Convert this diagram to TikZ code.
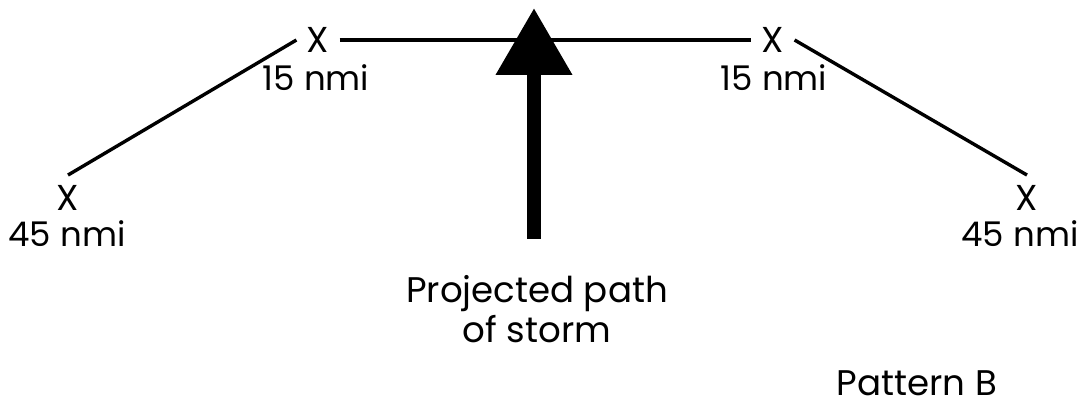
\documentclass[tikz,border=0pt]{standalone}
\usepackage{fontspec}
\setmainfont{Poppins}
\usepackage{tikz}
\usetikzlibrary{positioning, arrows.meta, calc}

\begin{document}
\begin{tikzpicture}[x=0.5pt, y=-0.5pt,
    mark x/.style={inner sep=5pt, font=\fontsize{18}{20}\selectfont},
    dist/.style={inner sep=0pt, font=\fontsize{17}{20}\selectfont},
    leg/.style={line width=1.7pt}]
    \useasboundingbox (0,0) rectangle (1083,406);

    % release points
    \node[mark x] (xll) at (68,198) {X};
    \node[mark x] (xul) at (318,40) {X};
    \node[mark x] (xur) at (773,40) {X};
    \node[mark x] (xlr) at (1027,198) {X};

    \node[dist] (dll) at (67,234) {45 nmi};
    \node[dist] (dul) at (316,78) {15 nmi};
    \node[dist] (dur) at (774,78) {15 nmi};
    \node[dist] (dlr) at (1020,234) {45 nmi};

    % track legs
    \draw[leg] (xll.north) -- (xul.west);
    \draw[leg] (xul.east) -- (xur.west);
    \draw[leg] (xur.east) -- (xlr.north);

    % storm path
    \coordinate (tail) at (534,239);
    \coordinate (tip) at (534,8);
    \draw[line width=7pt, -{Triangle[width=36.5pt, length=33.5pt]}] (tail) -- (tip);

    \node[align=center, font=\fontsize{17.8}{20}\selectfont] (storm) at (537,309)
      {Projected path\\of storm};
    \node[font=\fontsize{17.8}{20}\selectfont] (pat) at (917,383) {Pattern B};
\end{tikzpicture}
\end{document}
